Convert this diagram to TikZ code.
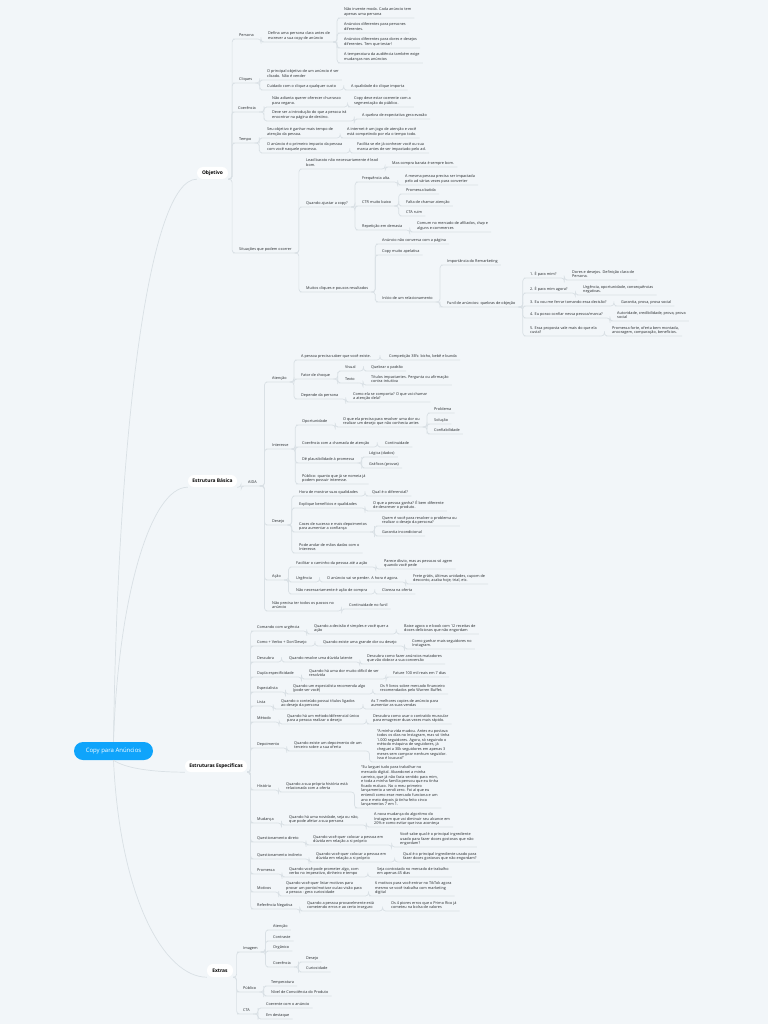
\documentclass[tikz,border=0pt]{standalone}
\usepackage{fontspec}
\setmainfont{Open Sans}
\usetikzlibrary{calc}
\definecolor{pagebg}{HTML}{F2F6F9}
\definecolor{linecol}{HTML}{D9E0E5}
\definecolor{txtcol}{HTML}{25292C}
\definecolor{rootcol}{HTML}{0FA4FB}
\tikzset{
  leaf/.style={anchor=south west,xshift=-3pt,inner xsep=3pt,inner ysep=2.2pt,text depth=0pt,align=left,
    text=txtcol,font=\fontsize{3.8}{4.6}\selectfont},
  pill/.style={fill=white,rounded corners=6pt,inner sep=0pt,text=black,font=\fontsize{4.9}{5.5}\selectfont\bfseries},
  branch/.style={draw=linecol,line width=.7pt,rounded corners=3pt,
    to path={(\tikztostart.south east) -| ($(\tikztostart.south east)!.5!(\tikztotarget.south west)$) |- (\tikztotarget.south west) -- (\tikztotarget.south east)}},
  trunk/.style={draw=linecol,line width=.7pt}
}
\begin{document}
\begin{tikzpicture}[x=1pt,y=-1pt]
    \path[use as bounding box,fill=pagebg] (0,0) rectangle (768,1024);
    \node[fill=rootcol,rounded corners=9pt,minimum width=79pt,minimum height=18pt,inner sep=0pt,text=white,font=\fontsize{6}{7}\selectfont] (root) at (113.5,751) {Copy para Anúncios};
    \node[pill,minimum width=31pt,minimum height=12pt] (obj) at (212.5,173) {Objetivo};
    \node[pill,minimum width=49pt,minimum height=12pt] (bas) at (212.5,481) {Estrutura Básica};
    \node[pill,minimum width=62pt,minimum height=12pt] (esp) at (216,766) {Estruturas Específicas};
    \node[pill,minimum width=26pt,minimum height=13pt] (ext) at (220,970.5) {Extras};
    \begin{scope}[every node/.style={leaf}]
    \node (per) at (239,39) {Persona};
    \node (per1) at (268,42) {Defina uma persona clara antes de\\escrever a sua copy de anúncio};
    \node (per11) at (344,18) {Não invente moda. Cada anúncio tem\\apenas uma persona};
    \node (per12) at (344,33) {Anúncios diferentes para persones\\diferentes.};
    \node (per13) at (344,48) {Anúncios diferentes para dores e desejos\\diferentes. Tem que testar!};
    \node (per14) at (344,63) {A temperatura da audiência também exige\\mudanças nos anúncios};
    \node (cli) at (239,83) {Cliques};
    \node (cli1) at (267,80) {O principal objetivo de um anúncio é ser\\clicado. Não é vender};
    \node (cli2) at (267,90) {Cuidado com o clique a qualquer custo};
    \node (cli21) at (351,90) {A qualidade do clique importa};
    \node (coe) at (238,112) {Coerência};
    \node (coe1) at (272,107) {Não adianta querer oferecer churrasco\\para vegano.};
    \node (coe2) at (272,121) {Deve ser a introdução do que a pessoa irá\\encontrar na página de destino.};
    \node (coe11) at (354,107) {Copy deve estar coerente com a\\segmentação do público.};
    \node (coe21) at (362,119) {A quebra de expectativa gera evasão};
    \node (tem) at (239,143) {Tempo};
    \node (tem1) at (267,138) {Seu objetivo é ganhar mais tempo de\\atenção da pessoa.};
    \node (tem2) at (267,153) {O anúncio é o primeiro impacto da pessoa\\com você naquele processo.};
    \node (tem11) at (347,138) {A internet é um jogo de atenção e você\\está competindo por ela o tempo todo.};
    \node (tem21) at (357,153) {Facilita se ele já conhecer você ou sua\\marca antes de ser impactado pelo ad.};
    \node (sit) at (239,253) {Situações que podem ocorrer};
    \node (lead) at (306,169) {Lead barato não necessariamente é lead\\bom.};
    \node (lead1) at (392,167) {Mas compra barata é sempre bom.};
    \node (aju) at (306,207) {Quando ajustar a copy?};
    \node (fre) at (362,182) {Frequência alta.};
    \node (fre1) at (405,185) {A mesma pessoa precisa ser impactada\\pelo ad várias vezes para converter};
    \node (ctr) at (362,206) {CTR muito baixo};
    \node (ctr1) at (406,194) {Promessa batida};
    \node (ctr2) at (406,206) {Falta de chamar atenção};
    \node (ctr3) at (406,216) {CTA ruim};
    \node (rep) at (362,230) {Repetição em demasia};
    \node (rep1) at (417,232) {Comum no mercado de afiliados, clwp e\\alguns e-commerces};
    \node (mui) at (306,292) {Muitos cliques e poucos resultados};
    \node (mui1) at (382,244) {Anúncio não conversa com a página};
    \node (mui2) at (382,255) {Copy muito apelativa};
    \node (mui3) at (382,302) {Início de um relacionamento};
    \node (rem) at (447,265) {Importância do Remarketing};
    \node (fun) at (447,307) {Funil de anúncios: quebras de objeção};
    \node (f1) at (530,278) {1. É para mim?};
    \node (f11) at (572,280) {Dores e desejos. Definição clara de\\Persona.};
    \node (f2) at (530,293) {2. É para mim agora?};
    \node (f21) at (583,295) {Urgência, oportunidade, consequências\\negativas.};
    \node (f3) at (530,306) {3. Eu vou me ferrar tomando essa decisão?};
    \node (f31) at (621,306) {Garantia, prova, prova social};
    \node (f4) at (530,318) {4. Eu posso confiar nessa pessoa/marca?};
    \node (f41) at (617,321) {Autoridade, credibilidade, prova, prova\\social};
    \node (f5) at (530,336) {5. Essa proposta vale mais do que ela\\custa?};
    \node (f51) at (612,336) {Promessa forte, oferta bem montada,\\ancoragem, comparação, benefícios.};
    \node (aida) at (248,486) {AIDA};
    \node (ate) at (272,382) {Atenção};
    \node (ate1) at (301,360) {A pessoa precisa saber que você existe.};
    \node (ate11) at (389,360) {Competição 3B's: bicho, bebê e bunda};
    \node (ate2) at (301,379) {Fator de choque};
    \node (vis) at (345,371) {Visual};
    \node (vis1) at (371,371) {Quebrar o padrão};
    \node (tex) at (345,383) {Texto};
    \node (tex1) at (371,385) {Títulos impactantes. Pergunta ou afirmação\\contra-intuitiva};
    \node (ate3) at (301,399) {Depende da persona};
    \node (ate31) at (353,402) {Como ela se comporta? O que vai chamar\\a atenção dela?};
    \node (int) at (272,449) {Interesse};
    \node (int1) at (302,425) {Oportunidade};
    \node (int11) at (343,427) {O que ela precisa para resolver uma dor ou\\realizar um desejo que não conhecia antes};
    \node (pro) at (434,413) {Problema};
    \node (sol) at (434,424) {Solução};
    \node (con) at (434,434) {Confiabilidade};
    \node (int2) at (302,447) {Coerência com a chamada de atenção};
    \node (int21) at (385,447) {Continuidade};
    \node (int3) at (302,463) {Dê plausibilidade à promessa};
    \node (log) at (369,457) {Lógica (dados)};
    \node (gra) at (369,468) {Gráficos (provas)};
    \node (int4) at (302,484) {Público: quanto que já se nomeia já\\podem possuir interesse.};
    \node (des) at (272,525) {Desejo};
    \node (des1) at (299,496) {Hora de mostrar suas qualidades};
    \node (des11) at (372,496) {Qual é o diferencial?};
    \node (des2) at (299,508) {Explique benefícios e qualidades};
    \node (des21) at (373,511) {O que a pessoa ganha? É bem diferente\\de descrever o produto.};
    \node (des3) at (299,532) {Cases de sucesso e mais depoimentos\\para aumentar a confiança};
    \node (des31) at (382,526) {Quem é você para resolver o problema ou\\realizar o desejo da persona?};
    \node (des32) at (382,536) {Garantia incondicional};
    \node (des4) at (299,553) {Pode andar de mãos dadas com o\\Interesse.};
    \node (aca) at (272,580) {Ação};
    \node (aca1) at (296,567) {Facilitar o caminho da pessoa até a ação};
    \node (aca11) at (384,569) {Parece óbvio, mas as pessoas só agem\\quando você pede};
    \node (aca2) at (296,582) {Urgência};
    \node (aca21) at (327,582) {O anúncio vai se perder. A hora é agora.};
    \node (aca211) at (413,584) {Frete grátis, últimas unidades, cupom de\\desconto, acaba hoje, trial, etc.};
    \node (aca3) at (296,594) {Não necessariamente é ação de compra};
    \node (aca31) at (382,594) {Clareza na oferta};
    \node (nao) at (272,611) {Não precisa ter todos os passos no\\anúncio};
    \node (nao1) at (349,609) {Continuidade no funil};
    \node (cmd) at (257,631) {Comando com urgência};
    \node (cmd1) at (314,634) {Quando a decisão é simples e você quer a\\ação};
    \node (cmd2) at (404,634) {Baixe agora o e-book com 12 receitas de\\doces deliciosos que não engordam};
    \node (com) at (257,646) {Como + Verbo + Dor/Desejo};
    \node (com1) at (323,646) {Quando existe uma grande dor ou desejo};
    \node (com2) at (412,649) {Como ganhar mais seguidores no\\Instagram.};
    \node (dsc) at (257,662) {Descubra};
    \node (dsc1) at (289,662) {Quando resolve uma dúvida latente};
    \node (dsc2) at (367,664) {Descubra como fazer anúncios matadores\\que vão dobrar a sua conversão};
    \node (dup) at (257,677) {Dupla especificidade};
    \node (dup1) at (309,679) {Quando há uma dor muito difícil de ser\\resolvida};
    \node (dup2) at (393,677) {Fature 100 mil reais em 7 dias};
    \node (spc) at (257,692) {Especialista};
    \node (spc1) at (293,694) {Quando um especialista recomenda algo\\(pode ser você)};
    \node (spc2) at (380,694) {Os 9 livros sobre mercado financeiro\\recomendados pelo Warren Buffet.};
    \node (lis) at (257,706) {Lista};
    \node (lis1) at (281,709) {Quando o conteúdo possui títulos ligados\\ao desejo da persona};
    \node (lis2) at (371,709) {As 7 melhores copies de anúncio para\\aumentar as suas vendas};
    \node (met) at (257,722) {Método};
    \node (met1) at (287,724) {Quando há um método/diferencial único\\para a pessoa realizar o desejo};
    \node (met2) at (373,724) {Descubra como usar o contraído muscular\\para emagrecer duas vezes mais rápido.};
    \node (dep) at (257,748) {Depoimento};
    \node (dep1) at (294,751) {Quando existe um depoimento de um\\terceiro sobre a sua oferta};
    \node (dep2) at (377,762) {“A minha vida mudou. Antes eu postava\\todos os dias no Instagram, mas só tinha\\1.000 seguidores. Agora, só seguindo o\\método máquina de seguidores, já\\cheguei a 30k seguidores em apenas 3\\meses sem comprar nenhum seguidor.\\Isso é loucura!”};
    \node (his) at (257,790) {História};
    \node (his1) at (286,792) {Quando a sua própria história está\\relacionada com a oferta};
    \node (his2) at (361,808) {“Eu larguei tudo para trabalhar no\\mercado digital. Abandonei a minha\\carreira, que já não fazia sentido para mim,\\e toda a minha família pensou que eu tinha\\ficado maluco. No o meu primeiro\\lançamento a vendi zero. Foi aí que eu\\entendi como esse mercado funciona e um\\ano e meio depois já tinha feito cinco\\lançamentos 7 em 1.};
    \node (mud) at (257,823) {Mudança};
    \node (mud1) at (289,825) {Quando há uma novidade, seja ou não,\\que pode afetar a sua persona};
    \node (mud2) at (374,827) {A nova mudança do algoritmo do\\Instagram que vai diminuir seu alcance em\\20\% e como evitar que isso aconteça};
    \node (qdi) at (257,842) {Questionamento direto};
    \node (qdi1) at (313,845) {Quando você quer colocar a pessoa em\\dúvida em relação a si próprio};
    \node (qdi2) at (400,847) {Você sabe qual é o principal ingrediente\\usado para fazer doces gostosos que não\\engordam?};
    \node (qin) at (257,859) {Questionamento indireto};
    \node (qin1) at (316,862) {Quando você quer colocar a pessoa em\\dúvida em relação a si próprio};
    \node (qin2) at (403,862) {Qual é o principal ingrediente usado para\\fazer doces gostosos que não engordam?};
    \node (prm) at (257,874) {Promessa};
    \node (prm1) at (289,877) {Quando você pode prometer algo, com\\verbo no imperativo, dinheiro e tempo};
    \node (prm2) at (377,877) {Seja contratado no mercado de trabalho\\em apenas 45 dias};
    \node (mot) at (257,892) {Motivos};
    \node (mot1) at (286,896) {Quando você quer listar motivos para\\provar um ponto/motivar ou/ao visão para\\a pessoa - gera curiosidade};
    \node (mot2) at (375,896) {6 motivos para você entrar no TikTok agora\\mesmo se você trabalha com marketing\\digital};
    \node (ref) at (257,909) {Referência Negativa};
    \node (ref1) at (307,911) {Quando a pessoa provavelmente está\\cometendo erros e ao certo inseguro};
    \node (ref2) at (391,911) {Os 4 piores erros que o Primo Rico já\\cometeu na bolsa de valores};
    \node (ima) at (243,952) {Imagem};
    \node (ima1) at (273,930) {Atenção};
    \node (ima2) at (273,941) {Contraste};
    \node (ima3) at (273,951) {Orgânico};
    \node (ima4) at (273,967) {Coerência};
    \node (ima41) at (306,962) {Desejo};
    \node (ima42) at (306,972) {Curiosidade};
    \node (pub) at (243,992) {Público};
    \node (pub1) at (271,986) {Temperatura};
    \node (pub2) at (271,996) {Nível de Consciência do Produto};
    \node (cta) at (243,1014) {CTA};
    \node (cta1) at (266,1008) {Coerente com o anúncio};
    \node (cta2) at (266,1019) {Em destaque};
    \end{scope}
    \draw[trunk] (root.north) .. controls (118,420) and (150,179) .. (obj.south west);
    \draw[trunk] (root.north) .. controls (118,600) and (150,487) .. (bas.south west);
    \draw[trunk] (root.south) .. controls (125,768) and (150,772) .. (esp.south west);
    \draw[trunk] (root.south) .. controls (120,900) and (165,977) .. (ext.south west);
    \begin{scope}[every edge/.style={branch}]
    \path (obj) edge (per) edge (cli) edge (coe) edge (tem) edge (sit);
    \path (per) edge (per1);
    \path (per1) edge (per11) edge (per12) edge (per13) edge (per14);
    \path (cli) edge (cli1) edge (cli2);
    \path (cli2) edge (cli21);
    \path (coe) edge (coe1) edge (coe2);
    \path (coe1) edge (coe11);
    \path (coe2) edge (coe21);
    \path (tem) edge (tem1) edge (tem2);
    \path (tem1) edge (tem11);
    \path (tem2) edge (tem21);
    \path (sit) edge (lead) edge (aju) edge (mui);
    \path (lead) edge (lead1);
    \path (aju) edge (fre) edge (ctr) edge (rep);
    \path (fre) edge (fre1);
    \path (ctr) edge (ctr1) edge (ctr2) edge (ctr3);
    \path (rep) edge (rep1);
    \path (mui) edge (mui1) edge (mui2) edge (mui3);
    \path (mui3) edge (rem) edge (fun);
    \path (fun) edge (f1) edge (f2) edge (f3) edge (f4) edge (f5);
    \path (f1) edge (f11);
    \path (f2) edge (f21);
    \path (f3) edge (f31);
    \path (f4) edge (f41);
    \path (f5) edge (f51);
    \path (bas) edge (aida);
    \path (aida) edge (ate) edge (int) edge (des) edge (aca) edge (nao);
    \path (ate) edge (ate1) edge (ate2) edge (ate3);
    \path (ate1) edge (ate11);
    \path (ate2) edge (vis) edge (tex);
    \path (vis) edge (vis1);
    \path (tex) edge (tex1);
    \path (ate3) edge (ate31);
    \path (int) edge (int1) edge (int2) edge (int3) edge (int4);
    \path (int1) edge (int11);
    \path (int11) edge (pro) edge (sol) edge (con);
    \path (int2) edge (int21);
    \path (int3) edge (log) edge (gra);
    \path (des) edge (des1) edge (des2) edge (des3) edge (des4);
    \path (des1) edge (des11);
    \path (des2) edge (des21);
    \path (des3) edge (des31) edge (des32);
    \path (aca) edge (aca1) edge (aca2) edge (aca3);
    \path (aca1) edge (aca11);
    \path (aca2) edge (aca21);
    \path (aca21) edge (aca211);
    \path (aca3) edge (aca31);
    \path (nao) edge (nao1);
    \path (esp) edge (cmd) edge (com) edge (dsc) edge (dup) edge (spc) edge (lis) edge (met) edge (dep) edge (his) edge (mud) edge (qdi) edge (qin) edge (prm) edge (mot) edge (ref);
    \path (cmd) edge (cmd1);
    \path (cmd1) edge (cmd2);
    \path (com) edge (com1);
    \path (com1) edge (com2);
    \path (dsc) edge (dsc1);
    \path (dsc1) edge (dsc2);
    \path (dup) edge (dup1);
    \path (dup1) edge (dup2);
    \path (spc) edge (spc1);
    \path (spc1) edge (spc2);
    \path (lis) edge (lis1);
    \path (lis1) edge (lis2);
    \path (met) edge (met1);
    \path (met1) edge (met2);
    \path (dep) edge (dep1);
    \path (dep1) edge (dep2);
    \path (his) edge (his1);
    \path (his1) edge (his2);
    \path (mud) edge (mud1);
    \path (mud1) edge (mud2);
    \path (qdi) edge (qdi1);
    \path (qdi1) edge (qdi2);
    \path (qin) edge (qin1);
    \path (qin1) edge (qin2);
    \path (prm) edge (prm1);
    \path (prm1) edge (prm2);
    \path (mot) edge (mot1);
    \path (mot1) edge (mot2);
    \path (ref) edge (ref1);
    \path (ref1) edge (ref2);
    \path (ext) edge (ima) edge (pub) edge (cta);
    \path (ima) edge (ima1) edge (ima2) edge (ima3) edge (ima4);
    \path (ima4) edge (ima41) edge (ima42);
    \path (pub) edge (pub1) edge (pub2);
    \path (cta) edge (cta1) edge (cta2);
    \end{scope}
\end{tikzpicture}
\end{document}
